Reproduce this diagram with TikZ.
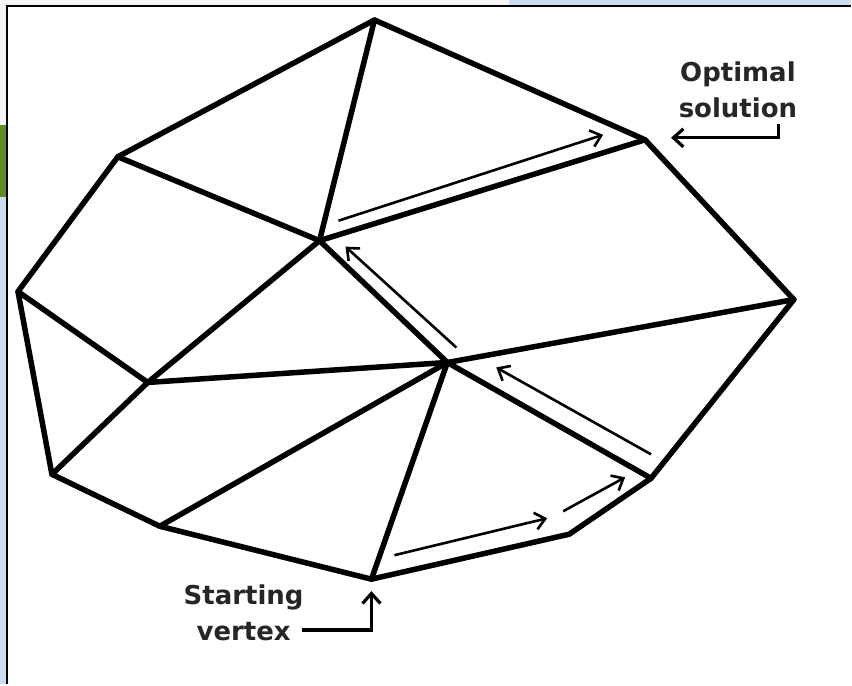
\documentclass[tikz,border=0pt]{standalone}
\usepackage{fontspec}
\setmainfont{DejaVu Sans}
\usetikzlibrary{arrows.meta}
\definecolor{screenblue}{RGB}{206,221,243}
\definecolor{screengreen}{RGB}{96,140,40}
\tikzstyle{edge} = [line width=5.5pt, line cap=round, line join=round]
\tikzstyle{pathstep} = [line width=2.6pt, -{Straight Barb[length=10pt, width=17pt, line width=2.6pt]}]
\tikzstyle{pointer} = [line width=3.2pt, -{Straight Barb[length=10pt, width=18pt, line width=3.2pt]}]
\tikzstyle{lbl} = [font=\bfseries\fontsize{26}{36}\selectfont, text=black!85, align=center, inner sep=0pt]

\begin{document}
\begin{tikzpicture}[x=1pt, y=-1pt]
    % screen around the figure
    \fill[screenblue] (0,0) rectangle (852,685);
    \fill[gray!8] (0,0) rectangle (510,6);
    \fill[gray!8] (0,0) rectangle (7,125);
    \fill[screengreen] (0,125) rectangle (7,197);
    \fill[white] (7,6) rectangle (852,685);
    \draw[line width=2.5pt] (7,685) -- (7,6) -- (852,6);

    % vertices of the polytope
    \coordinate (top)   at (375,20);
    \coordinate (ul)    at (118,157);
    \coordinate (left)  at (18,292);
    \coordinate (bl)    at (52,475);
    \coordinate (b1)    at (160,527);
    \coordinate (start) at (372,580);
    \coordinate (b2)    at (570,535);
    \coordinate (br)    at (652,479);
    \coordinate (right) at (795,300);
    \coordinate (opt)   at (646,140);
    \coordinate (p)     at (320,241);
    \coordinate (q)     at (148,383);
    \coordinate (c)     at (448,363);

    % outer boundary
    \draw[edge] (top) -- (ul) -- (left) -- (bl) -- (b1) -- (start) -- (b2)
                -- (br) -- (right) -- (opt) -- cycle;
    % inner edges
    \draw[edge] (top) -- (p);
    \draw[edge] (ul) -- (p);
    \draw[edge] (p) -- (opt);
    \draw[edge] (p) -- (q);
    \draw[edge] (p) -- (c);
    \draw[edge] (left) -- (q);
    \draw[edge] (q) -- (c);
    \draw[edge] (q) -- (bl);
    \draw[edge] (b1) -- (c);
    \draw[edge] (start) -- (c);
    \draw[edge] (c) -- (right);
    \draw[edge] (c) -- (br);

    % simplex steps
    \coordinate (s1a) at (395,556);  \coordinate (s1b) at (548,519);
    \coordinate (s2a) at (564,512);  \coordinate (s2b) at (626,478);
    \coordinate (s3a) at (652,455);  \coordinate (s3b) at (497,368);
    \coordinate (s4a) at (457,348);  \coordinate (s4b) at (346,247);
    \coordinate (s5a) at (339,221);  \coordinate (s5b) at (604,135);
    \draw[pathstep] (s1a) -- (s1b);
    \draw[pathstep] (s2a) -- (s2b);
    \draw[pathstep] (s3a) -- (s3b);
    \draw[pathstep] (s4a) -- (s4b);
    \draw[pathstep] (s5a) -- (s5b);

    % labels
    \node[lbl, anchor=north] (optlbl) at (739,62) {Optimal\\solution};
    \node[lbl, anchor=north] (startlbl) at (244,585) {Starting\\vertex};
    \coordinate (optbend) at (780,124);
    \coordinate (opttip)  at (672,138);
    \coordinate (sttail)  at (302,631);
    \coordinate (sttip)   at (372,592);
    \draw[pointer] (optbend) |- (opttip);
    \draw[pointer] (sttail) -| (sttip);
\end{tikzpicture}
\end{document}
